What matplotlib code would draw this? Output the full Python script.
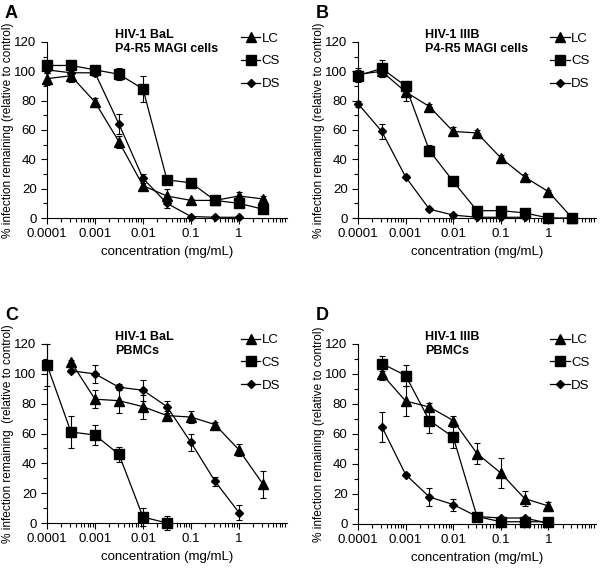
import numpy as np
import matplotlib
matplotlib.use("Agg")
import matplotlib.pyplot as plt
from matplotlib.ticker import LogLocator, FixedLocator, FixedFormatter, MultipleLocator

plt.rcParams['font.family'] = ['Liberation Sans', 'DejaVu Sans']

# concentrations (mg/mL), half-log steps
conc = [0.0001, 0.000316, 0.001, 0.00316, 0.01, 0.0316, 0.1, 0.316, 1, 3.16]

# panel A: HIV-1 BaL, P4-R5 MAGI cells
a_lc = [95, 97, 79, 52, 22, 15, 12, 12, 15, 13]
a_lc_err = [4, 4, 3, 4, 3, 5, 1, 1, 3, 2]
a_cs = [104, 104, 101, 98, 88, 26, 24, 12, 10, 6]
a_cs_err = [2, 2, 2, 4, 9, 1, 1, 1, 2, 1]
a_ds = [101, 99, 99, 64, 27, 10, 1, 0.5, 0.5]
a_ds_err = [2, 2, 2, 7, 3, 3, 0.5, 0.5, 0.5]

# panel B: HIV-1 IIIB, P4-R5 MAGI cells
b_lc = [98, 100, 86, 76, 59, 58, 41, 28, 18, 0]
b_lc_err = [4, 4, 6, 2, 3, 2, 2, 2, 1, 0]
b_cs = [97, 102, 90, 46, 25, 5, 5, 3.5, 0, 0]
b_cs_err = [4, 6, 2, 4, 2, 1, 1, 1, 0, 0]
b_ds = [78, 59, 28, 6, 2, 0.5, 0.5, 0.5]
b_ds_err = [2, 5, 1, 1, 1, 0.5, 0.5, 0.5]

# panel C: HIV-1 BaL, PBMCs
c_lc = [None, 108, 83, 82, 78, 72, 71, 66, 49, 26]
c_lc_err = [0, 1, 6, 8, 8, 3, 4, 2, 4, 9]
c_cs = [106, 61, 59, 46, 4, 0]
c_cs_err = [14, 11, 7, 5, 6, 5]
c_ds = [None, 102, 100, 91, 89, 78, 54, 28, 7]
c_ds_err = [0, 1, 6, 2, 7, 4, 6, 3, 5]

# panel D: HIV-1 IIIB, PBMCs
d_lc = [None, 100, 82, 78, 69, 47, 34, 17, 12]
d_lc_err = [0, 4, 10, 3, 3, 7, 10, 5, 3]
d_cs = [None, 107, 99, 69, 58, 5, 1.5, 1.5, 1.5]
d_cs_err = [0, 5, 7, 8, 7, 2, 1, 1, 1]
d_ds = [None, 65, 33, 18, 13, 5, 4, 4, 0.5]
d_ds_err = [0, 10, 1, 6, 4, 2, 1, 1, 0.5]

ylab = "% infection remaining (relative to control)"
ylab_c = "% infection remaining  (relative to control)"

panels = [
    ("A", "HIV-1 BaL\nP4-R5 MAGI cells", ylab, a_lc, a_lc_err, a_cs, a_cs_err, a_ds, a_ds_err),
    ("B", "HIV-1 IIIB\nP4-R5 MAGI cells", ylab, b_lc, b_lc_err, b_cs, b_cs_err, b_ds, b_ds_err),
    ("C", "HIV-1 BaL\nPBMCs", ylab_c, c_lc, c_lc_err, c_cs, c_cs_err, c_ds, c_ds_err),
    ("D", "HIV-1 IIIB\nPBMCs", ylab, d_lc, d_lc_err, d_cs, d_cs_err, d_ds, d_ds_err),
]

W, H = 600, 570
fig = plt.figure(figsize=(6, 5.7), dpi=100)
# axes boxes in pixels: left, right, top, bottom
boxes = [(47, 287, 42, 218), (358, 596, 42, 218), (47, 287, 344, 523), (358, 596, 344, 524)]


def series(y, err):
    x = [c for c, v in zip(conc, y) if v is not None]
    e = [ee for v, ee in zip(y, err) if v is not None]
    v = [v for v in y if v is not None]
    return x, v, e


for (letter, title, yl, lc, lce, cs, cse, ds, dse), (l, r, t, b) in zip(panels, boxes):
    ax = fig.add_axes([l / W, 1 - b / H, (r - l) / W, (b - t) / H])
    ax.patch.set_alpha(0)
    for y, e, mk, ms, lab in [(lc, lce, '^', 6.5, 'LC'), (cs, cse, 's', 6.5, 'CS'), (ds, dse, 'D', 4.5, 'DS')]:
        x, v, ee = series(y, e)
        ax.errorbar(x, v, yerr=ee, color='black', marker=mk, markersize=ms, lw=0.9,
                    elinewidth=0.8, capsize=2, capthick=0.8, label=lab, clip_on=False, zorder=3)
    ax.set_xscale('log')
    ax.set_xlim(1e-4, 10)
    ax.set_ylim(0, 120)
    ax.spines['top'].set_visible(False)
    ax.spines['right'].set_visible(False)
    ax.xaxis.set_major_locator(FixedLocator([1e-4, 1e-3, 1e-2, 1e-1, 1]))
    ax.xaxis.set_major_formatter(FixedFormatter(["0.0001", "0.001", "0.01", "0.1", "1"]))
    ax.xaxis.set_minor_locator(LogLocator(base=10, subs=np.arange(2, 10)))
    ax.xaxis.set_minor_formatter(FixedFormatter([]))
    ax.yaxis.set_major_locator(MultipleLocator(20))
    ax.yaxis.set_minor_locator(MultipleLocator(10))
    ax.tick_params(which='both', direction='out', labelsize=9.5, width=0.8)
    ax.tick_params(which='major', length=4)
    ax.tick_params(which='minor', length=3)
    ax.set_xlabel("concentration (mg/mL)", fontsize=9.5, labelpad=4)
    ax.set_ylabel(yl, fontsize=8.6, labelpad=0)
    ax.text(0.283, 1.075, title, transform=ax.transAxes, fontsize=9, fontweight='bold',
            va='top', ha='left', linespacing=1.3)
    fig.text((l - 42) / W, 1 - (t - 28) / H, letter, fontsize=13, fontweight='bold', va='center', ha='left')
    handles, labels = ax.get_legend_handles_labels()
    handles = [h[0] for h in handles]
    ax.legend(handles, labels, loc='upper left', bbox_to_anchor=(0.785, 1.085), frameon=False,
              fontsize=9.5, handlelength=1.5, handletextpad=0.1, labelspacing=0.8, borderaxespad=0)

fig.savefig("out.png", dpi=100)
